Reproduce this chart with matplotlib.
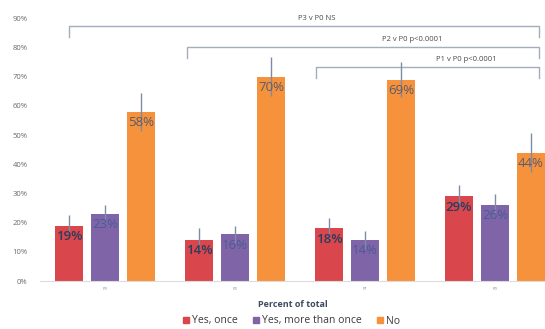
import matplotlib
matplotlib.use("Agg")
import matplotlib.pyplot as plt
from matplotlib.patches import Patch
import numpy as np

plt.rcParams['font.family'] = ['Open Sans', 'DejaVu Sans']

# data
groups = ['P3', 'P2', 'P1', 'P0']
series = ['Yes, once', 'Yes, more than once', 'No']
values = [
    [19, 14, 18, 29],   # Yes, once
    [23, 16, 14, 26],   # Yes, more than once
    [58, 70, 69, 44],   # No
]
errors = [
    [3.6, 4.0, 3.5, 4.0],
    [3.0, 3.0, 3.0, 3.7],
    [6.5, 6.7, 6.0, 6.7],
]
colors = ['#d9474c', '#8064a8', '#f7923c']
label_colors = ['#2e3b5c', '#4a5a98', '#5b5b6b']

# comparison brackets: (text, left x, right x, level in %)
brackets = [
    ('P3 v P0 NS', -0.28, 3.34, 87.3),
    ('P2 v P0 p<0.0001', 0.63, 3.34, 80.3),
    ('P1 v P0 p<0.0001', 1.62, 3.34, 73.3),
]
bracket_text_x = [1.63, 2.36, 2.78]


def main():
    fig = plt.figure(figsize=(5.45, 3.29), dpi=100)
    ax = fig.add_axes([40 / 545, 1 - 281 / 329, 1 - 40 / 545, (281 - 3.6) / 329])

    x = np.arange(len(groups))
    width = 0.215
    step = 0.277

    for i, name in enumerate(series):
        pos = x + (i - 1) * step
        ax.bar(pos, values[i], width, color=colors[i], label=name, zorder=2)
        ax.errorbar(pos, values[i], yerr=errors[i], fmt='none',
                    ecolor='#7d8ba3', elinewidth=1, capsize=0, zorder=3)
        for px, v in zip(pos, values[i]):
            ax.text(px, v - 1.5, f'{v}%', ha='center', va='top', fontsize=9.5,
                    color=label_colors[i], fontweight='semibold' if i == 0 else 'normal',
                    zorder=4)

    # significance brackets
    drop = 3.8
    for (txt, x0, x1, lvl), tx in zip(brackets, bracket_text_x):
        ax.plot([x0, x0, x1, x1], [lvl - drop, lvl, lvl, lvl - drop],
                color='#a3adbd', lw=1, zorder=1)
        ax.text(tx, lvl + 1.3, txt, ha='center', va='bottom', fontsize=5.5,
                color='#4a4a4a')

    ax.set_xlim(-0.5, 3.385)
    ax.set_ylim(0, 95)
    ax.set_yticks(np.arange(0, 91, 10))
    ax.set_yticklabels([f'{t}%' for t in range(0, 91, 10)], fontsize=5.5,
                       color='#6a6a6a')
    ax.set_xticks(x)
    ax.set_xticklabels(groups, fontsize=3, color='#8a8a8a')
    ax.tick_params(length=0, pad=9)
    ax.tick_params(axis='x', pad=4)

    for s in ['top', 'right', 'left']:
        ax.spines[s].set_visible(False)
    ax.spines['bottom'].set_color('#dcdcdc')

    ax.set_xlabel('Percent of total', fontsize=6.5, fontweight='bold',
                  color='#3f4a63', labelpad=7)

    handles = [Patch(color=c) for c in colors]
    fig.legend(handles, series, loc='center', bbox_to_anchor=(0.535, 1 - 321 / 329),
               ncol=3, frameon=False, fontsize=7.5, handlelength=0.6,
               handleheight=0.6, columnspacing=1.4, handletextpad=0.3,
               labelcolor='#3a3a3a')

    fig.savefig('out.png', dpi=100)


if __name__ == "__main__":
    main()
